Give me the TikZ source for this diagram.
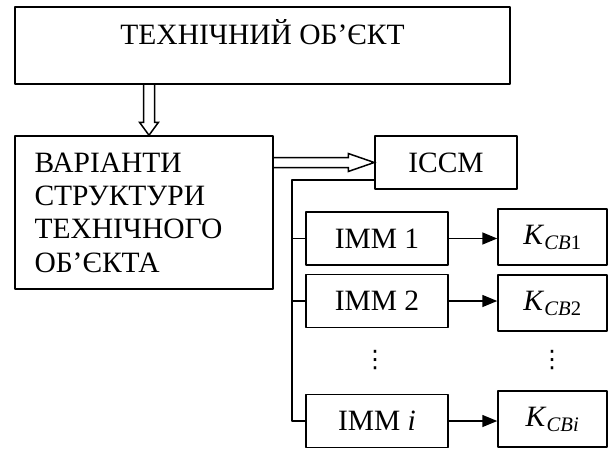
\documentclass[tikz,border=0pt]{standalone}
\usepackage{fontspec}
\setmainfont{Liberation Serif}
\newfontfamily\symfont{DejaVu Sans}
\usetikzlibrary{arrows.meta,calc}

\tikzset{
  blk/.style={draw, line width=1.5pt, inner sep=0pt, minimum width=142pt, minimum height=53pt},
  kblk/.style={blk, minimum width=109pt, minimum height=56pt},
  hollow/.style={line width=1.5pt, line join=miter},
  arr/.style={line width=1.5pt, -{Triangle[length=15pt,width=12pt]}},
}

\begin{document}
\begin{tikzpicture}[line cap=round,line join=round,x=1pt,y=1pt,font=\fontsize{29.5}{33.3}\selectfont]
\useasboundingbox (0,0) rectangle (609,448);
% boxes
\node[blk, minimum width=495pt, text height=37pt, text depth=39pt, inner ysep=0.5pt] (tobj) at (262.5,402.5) {ТЕХНІЧНИЙ ОБ’ЄКТ};
\node[draw, line width=1.5pt, text width=219pt, inner xsep=19.5pt, minimum height=153pt, align=left] (vars) at (144,235.5) {ВАРІАНТИ\\ СТРУКТУРИ\\ ТЕХНІЧНОГО\\ ОБ’ЄКТА};
\node[blk] (iccm) at (446,285.5) {ІССМ};
\node[blk] (imm1) at (377,209.5) {ІММ 1};
\node[blk] (imm2) at (377,147) {ІММ 2};
\node[blk] (immi) at (377,27) {ІММ \textit{i}};
\node[kblk] (kcb1) at (552.5,211) {\textit{K}\textsubscript{\textit{CB}1}};
\node[kblk] (kcb2) at (552.5,145) {\textit{K}\textsubscript{\textit{CB}2}};
\node[kblk] (kcbi) at (552.5,29) {\textit{K}\textsubscript{\textit{CBi}}};
\node[font=\symfont\fontsize{24}{24}\selectfont] (dots1) at (375,87.5) {⋮};
\node[font=\symfont\fontsize{24}{24}\selectfont] (dots2) at (552,87.5) {⋮};
% hollow arrows
\coordinate (dtip) at ($(vars.north)+(5,0)$);
\draw[hollow] ($(dtip |- tobj.south)+(-5.5,0)$) -- ($(dtip)+(-5.5,13)$) -- ($(dtip)+(-9.5,13)$) -- (dtip)
  -- ($(dtip)+(9.5,13)$) -- ($(dtip)+(5.5,13)$) -- ($(dtip |- tobj.south)+(5.5,0)$);
\coordinate (rtip) at (iccm.west);
\draw[hollow] ($(vars.east |- rtip)+(0,5)$) -- ($(rtip)+(-26,5)$) -- ($(rtip)+(-26,9)$) -- (rtip)
  -- ($(rtip)+(-26,-9)$) -- ($(rtip)+(-26,-5)$) -- ($(vars.east |- rtip)+(0,-5)$);
% bus to the models
\coordinate (bus) at (292,268);
\draw[line width=1.5pt] (iccm.west |- bus) -- (bus) |- (immi.west);
\draw[line width=1.5pt] (bus |- imm1.west) -- (imm1.west);
\draw[line width=1.5pt] (bus |- imm2.west) -- (imm2.west);
% outputs
\draw[arr] (imm1.east) -- (imm1.east -| kcb1.west);
\draw[arr] (imm2.east) -- (imm2.east -| kcb2.west);
\draw[arr] (immi.east) -- (immi.east -| kcbi.west);
\end{tikzpicture}
\end{document}
